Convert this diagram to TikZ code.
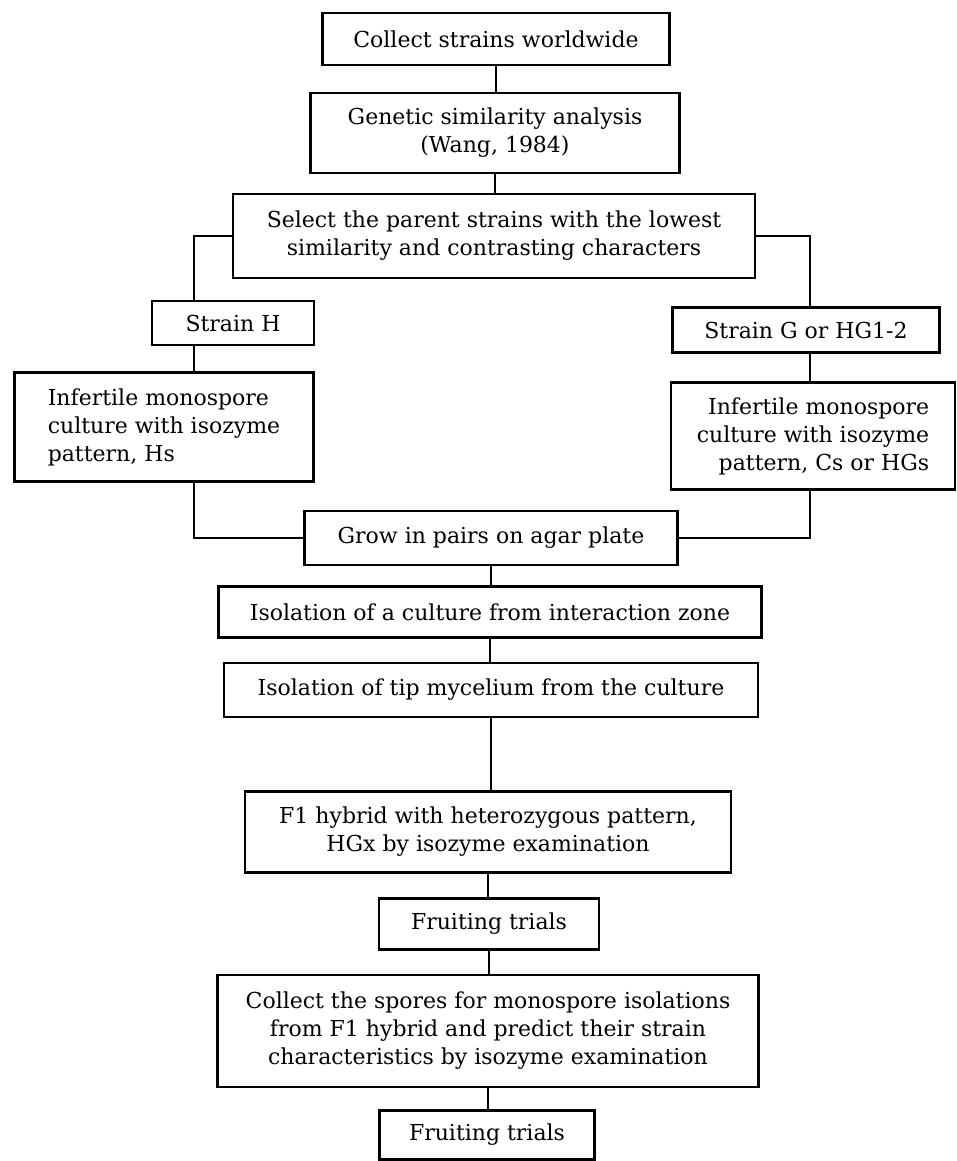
\documentclass[tikz,border=0pt]{standalone}
\usepackage{fontspec}
\setmainfont{DejaVu Serif}
\begin{document}
\begin{tikzpicture}[x=1pt,y=-1pt,
  box/.style={draw,line width=2.5pt,rectangle,inner sep=0pt,align=center,
    font=\fontsize{22}{28}\selectfont},
  conn/.style={line width=1.3pt}]
\useasboundingbox (0,0) rectangle (957,1161);
\node[box,minimum width=347,minimum height=52] (b1) at (496,39) {Collect strains worldwide};
\node[box,minimum width=369,minimum height=80] (b2) at (495,133) {Genetic similarity analysis\\(Wang, 1984)};
\node[box,minimum width=522,minimum height=84] (b3) at (494,236) {Select the parent strains with the lowest\\similarity and contrasting characters};
\node[box,minimum width=162,minimum height=44] (sH) at (233,323) {Strain H};
\node[box,minimum width=299,minimum height=109,align=left] (infL) at (164,427) {Infertile monospore\\culture with isozyme\\pattern, Hs};
\node[box,minimum width=267,minimum height=45] (sG) at (806,330) {Strain G or HG1-2};
\node[box,minimum width=284,minimum height=107,align=right] (infR) at (813,436) {Infertile monospore\\culture with isozyme\\pattern, Cs or HGs};
\node[box,minimum width=373,minimum height=54] (grow) at (491,538) {Grow in pairs on agar plate};
\node[box,minimum width=543,minimum height=51] (iso1) at (490,612) {Isolation of a culture from interaction zone};
\node[box,minimum width=534,minimum height=54] (iso2) at (491,690) {Isolation of tip mycelium from the culture};
\node[box,minimum width=486,minimum height=81] (f1) at (488,832) {F1 hybrid with heterozygous pattern,\\HGx by isozyme examination};
\node[box,minimum width=220,minimum height=51] (fr1) at (489,924) {Fruiting trials};
\node[box,minimum width=541,minimum height=112] (sp) at (488,1031) {Collect the spores for monospore isolations\\from F1 hybrid and predict their strain\\characteristics by isozyme examination};
\node[box,minimum width=215,minimum height=49] (fr2) at (487,1135) {Fruiting trials};
\coordinate (lx) at (194,0);
\coordinate (rx) at (810,0);
\draw[conn] (b1.south) -- (b1.south |- b2.north);
\draw[conn] (b2.south) -- (b2.south |- b3.north);
\draw[conn] (b3.west) -| (lx |- sH.north);
\draw[conn] (lx |- sH.south) -- (lx |- infL.north);
\draw[conn] (lx |- infL.south) |- (grow.west);
\draw[conn] (b3.east) -| (rx |- sG.north);
\draw[conn] (rx |- sG.south) -- (rx |- infR.north);
\draw[conn] (rx |- infR.south) |- (grow.east);
\draw[conn] (grow.south) -- (grow.south |- iso1.north);
\draw[conn] (iso1.south) -- (iso1.south |- iso2.north);
\draw[conn] (iso2.south) -- (iso2.south |- f1.north);
\draw[conn] (f1.south) -- (f1.south |- fr1.north);
\draw[conn] (fr1.south) -- (fr1.south |- sp.north);
\draw[conn] (sp.south) -- (sp.south |- fr2.north);
\end{tikzpicture}
\end{document}
